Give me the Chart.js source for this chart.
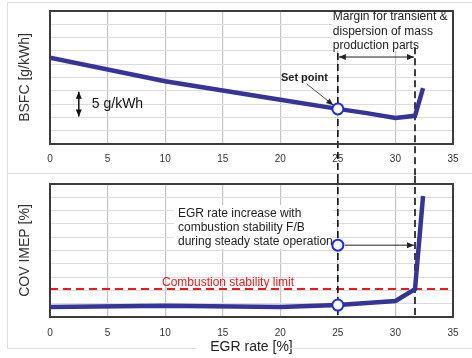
<!DOCTYPE html>
<html>
<head>
<meta charset="utf-8">
<script src="https://cdn.jsdelivr.net/npm/chart.js@4"></script>
<style>
  body { margin: 0; background: #fff; width: 472px; height: 358px; overflow: hidden; position: relative; }
  #top { position: absolute; left: 0; top: 0; width: 472px; height: 176px; }
  #bot { position: absolute; left: 0; top: 176px; width: 472px; height: 182px; }
</style>
</head>
<body>
<div id="top"><canvas id="bsfcChart"></canvas></div>
<div id="bot"><canvas id="covChart"></canvas></div>
<script>
// EGR sweep (x) and the two measured curves (y, relative units)
const egrRate = [0, 10, 20, 25, 27.5, 30, 31.7, 32.4];
const bsfc = [16.2, 11.8, 8.3, 6.6, 5.8, 4.9, 5.3, 10.5];
const covImep = [0.75, 0.85, 0.75, 0.9, 1.05, 1.2, 2.1, 9.1];
const xTicks = [0, 5, 10, 15, 20, 25, 30, 35];

const setPointEgr = 25;
const limitEgr = 31.7;
const setPointBsfc = 6.6;
const setPointCov = 0.9;
const fbStartCov = 5.4;
const stabilityLimit = 2.1;

const FONT = '"Liberation Sans", Arial, sans-serif';
const LINE_BLUE = '#34349a';
const RING_BLUE = '#1a2cf0';
const PANEL_LINE = '#dedede';

function pts(xs, ys) { return xs.map((x, i) => ({ x: x, y: ys[i] })); }

function px(chart, x, y) {
  return [chart.scales.x.getPixelForValue(x), chart.scales.y.getPixelForValue(y)];
}

function head(ctx, x, y, ang) {
  ctx.save();
  ctx.translate(x, y);
  ctx.rotate(ang);
  ctx.beginPath();
  ctx.moveTo(0, 0);
  ctx.lineTo(-7, -3);
  ctx.lineTo(-7, 3);
  ctx.closePath();
  ctx.fill();
  ctx.restore();
}

function arrow(ctx, x1, y1, x2, y2, both) {
  ctx.beginPath();
  ctx.moveTo(x1, y1);
  ctx.lineTo(x2, y2);
  ctx.stroke();
  const a = Math.atan2(y2 - y1, x2 - x1);
  head(ctx, x2, y2, a);
  if (both) head(ctx, x1, y1, a + Math.PI);
}

function vDash(ctx, x, y1, y2) {
  ctx.save();
  ctx.strokeStyle = '#111';
  ctx.lineWidth = 1.6;
  ctx.setLineDash([7, 4]);
  ctx.beginPath();
  ctx.moveTo(x, y1);
  ctx.lineTo(x, y2);
  ctx.stroke();
  ctx.restore();
}

function frame(chart) {
  const { ctx, chartArea: a } = chart;
  ctx.save();
  ctx.strokeStyle = '#3c3c3c';
  ctx.lineWidth = 2;
  ctx.strokeRect(a.left, a.top, a.right - a.left, a.bottom - a.top);
  ctx.restore();
}

function textLines(ctx, lines, x, y, step) {
  lines.forEach((t, i) => ctx.fillText(t, x, y + i * step));
}

const topDecor = {
  id: 'topDecor',
  beforeDatasetsDraw(chart) {
    const ctx = chart.ctx;
    ctx.save();
    // panel outline
    ctx.strokeStyle = PANEL_LINE;
    ctx.lineWidth = 1;
    ctx.beginPath();
    ctx.moveTo(7.5, 176); ctx.lineTo(7.5, 2.5); ctx.lineTo(472, 2.5);
    ctx.moveTo(7.5, 173.5); ctx.lineTo(472, 173.5);
    ctx.stroke();
    // white box behind the margin note
    const [bx] = px(chart, setPointEgr, 0);
    ctx.fillStyle = '#fff';
    ctx.fillRect(bx - 5, chart.chartArea.top, chart.chartArea.right - bx + 5, 40);
    ctx.restore();
    const [x1, y1] = px(chart, setPointEgr, 17.1);
    const [x2, y2] = px(chart, limitEgr, 18.2);
    vDash(ctx, x1, y1, chart.height);
    vDash(ctx, x2, y2, chart.height);
  },
  afterDatasetsDraw(chart) {
    const ctx = chart.ctx;
    frame(chart);
    ctx.save();
    ctx.fillStyle = '#222';
    ctx.strokeStyle = '#222';
    ctx.lineWidth = 1;
    // margin note + double arrow
    ctx.font = '12px ' + FONT;
    ctx.textBaseline = 'middle';
    const [mx] = px(chart, setPointEgr, 0);
    textLines(ctx, ['Margin for transient &', 'dispersion of mass', 'production parts'], mx - 5, 17, 14.5);
    const [ax1, ay] = px(chart, setPointEgr, 16.35);
    const [ax2] = px(chart, limitEgr, 0);
    arrow(ctx, ax1 + 1, ay, ax2 - 1, ay, true);
    // set point label
    ctx.font = 'bold 11px ' + FONT;
    ctx.textAlign = 'center';
    const [sx, sy] = px(chart, 22.1, 12.5);
    ctx.fillText('Set point', sx, sy);
    const [p1x, p1y] = px(chart, 22.3, 11.3);
    const [p2x, p2y] = px(chart, 24.6, 7.3);
    ctx.lineWidth = 0.8;
    arrow(ctx, p1x, p1y, p2x, p2y, false);
    // 5 g/kWh scale arrow
    ctx.lineWidth = 1.5;
    ctx.fillStyle = '#111';
    ctx.strokeStyle = '#111';
    const [gx, gy1] = px(chart, 2.5, 10);
    const [, gy2] = px(chart, 2.5, 5);
    arrow(ctx, gx, gy1 + 1, gx, gy2 - 1, true);
    ctx.font = '14px ' + FONT;
    ctx.textAlign = 'left';
    ctx.fillText('5 g/kWh', gx + 13, (gy1 + gy2) / 2);
    ctx.restore();
  }
};

const botDecor = {
  id: 'botDecor',
  beforeDatasetsDraw(chart) {
    const ctx = chart.ctx;
    const a = chart.chartArea;
    ctx.save();
    ctx.strokeStyle = PANEL_LINE;
    ctx.lineWidth = 1;
    ctx.beginPath();
    ctx.moveTo(7.5, 0); ctx.lineTo(7.5, 172.5); ctx.lineTo(196, 172.5);
    ctx.moveTo(289, 172.5); ctx.lineTo(472, 172.5);
    ctx.stroke();
    // white box behind the F/B note
    ctx.fillStyle = '#fff';
    ctx.fillRect(174, 29, 158, 44);
    // combustion stability limit
    const [, ly] = px(chart, 0, stabilityLimit);
    ctx.strokeStyle = '#f01818';
    ctx.lineWidth = 2;
    ctx.setLineDash([8, 5]);
    ctx.beginPath();
    ctx.moveTo(a.left, ly);
    ctx.lineTo(a.right, ly);
    ctx.stroke();
    ctx.restore();
    const [x1] = px(chart, setPointEgr, 0);
    const [x2] = px(chart, limitEgr, 0);
    vDash(ctx, x1, 0, a.bottom);
    vDash(ctx, x2, 0, a.bottom);
  },
  afterDatasetsDraw(chart) {
    const ctx = chart.ctx;
    frame(chart);
    ctx.save();
    ctx.textBaseline = 'middle';
    ctx.font = '12px ' + FONT;
    ctx.fillStyle = '#222';
    textLines(ctx, ['EGR rate increase with', 'combustion stability F/B', 'during steady state operation'], 178, 38, 14);
    ctx.fillStyle = '#f01818';
    const [, ly] = px(chart, 0, stabilityLimit);
    ctx.fillText('Combustion stability limit', 162, ly - 6);
    ctx.fillStyle = '#222';
    ctx.strokeStyle = '#222';
    ctx.lineWidth = 1;
    const [ax1, ay] = px(chart, setPointEgr, fbStartCov);
    const [ax2] = px(chart, limitEgr, 0);
    arrow(ctx, ax1 + 7, ay, ax2 - 1, ay, false);
    ctx.restore();
  }
};

function baseOptions(cfg) {
  return {
    responsive: true,
    maintainAspectRatio: false,
    animation: false,
    layout: { padding: { left: 8, right: 19, top: cfg.top, bottom: 0 } },
    plugins: { legend: { display: false }, tooltip: { enabled: false } },
    scales: {
      x: {
        type: 'linear',
        min: xTicks[0], max: xTicks[xTicks.length - 1],
        afterFit: s => { s.height = cfg.xHeight; },
        border: { display: false },
        grid: { color: '#c4c4c4', lineWidth: 1.2, drawTicks: false },
        ticks: {
          stepSize: xTicks[1] - xTicks[0],
          padding: cfg.tickPad, color: '#333', font: { family: FONT, size: 10 }
        },
        title: cfg.xTitle ? {
          display: true, text: cfg.xTitle, color: '#222',
          font: { family: FONT, size: 14 }, padding: { top: 0, bottom: 2 }
        } : { display: false }
      },
      y: {
        min: cfg.yMin, max: cfg.yMax,
        afterFit: s => { s.width = 42; },
        border: { display: false },
        grid: { color: '#dcdcdc', lineWidth: 1, drawTicks: false },
        ticks: { display: false, stepSize: cfg.yStep },
        title: {
          display: true, text: cfg.yTitle, color: '#333',
          font: { family: FONT, size: 14 }, padding: { top: 9, bottom: 0 }
        }
      }
    }
  };
}

new Chart(document.getElementById('bsfcChart'), {
  type: 'line',
  data: {
    datasets: [
      {
        data: [{ x: setPointEgr, y: setPointBsfc }],
        showLine: false, pointRadius: 5.5, pointBorderWidth: 2,
        pointBackgroundColor: '#fff', pointBorderColor: RING_BLUE
      },
      {
        data: pts(egrRate, bsfc),
        borderColor: LINE_BLUE, borderWidth: 4.5, pointRadius: 0, tension: 0
      }
    ]
  },
  options: baseOptions({ top: 11, xHeight: 32, tickPad: 9, yMin: 0, yMax: 25, yStep: 2.5, yTitle: 'BSFC [g/kWh]' }),
  plugins: [topDecor]
});

new Chart(document.getElementById('covChart'), {
  type: 'line',
  data: {
    datasets: [
      {
        data: [{ x: setPointEgr, y: setPointCov }, { x: setPointEgr, y: fbStartCov }],
        showLine: false, pointRadius: 5.5, pointBorderWidth: 2,
        pointBackgroundColor: '#fff', pointBorderColor: RING_BLUE
      },
      {
        data: pts(egrRate, covImep),
        borderColor: LINE_BLUE, borderWidth: 4.5, pointRadius: 0, tension: 0
      }
    ]
  },
  options: baseOptions({ top: 8, xHeight: 41, tickPad: 10, yMin: 0, yMax: 10, yStep: 1, yTitle: 'COV IMEP [%]', xTitle: 'EGR rate [%]' }),
  plugins: [botDecor]
});
</script>
</body>
</html>
